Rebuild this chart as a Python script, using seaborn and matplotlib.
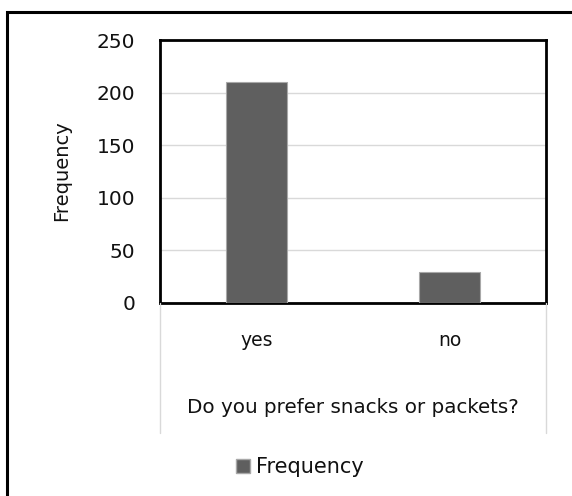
import matplotlib
matplotlib.use("Agg")
import matplotlib.pyplot as plt
from matplotlib.patches import Rectangle
from matplotlib.lines import Line2D
import seaborn as sns
import pandas as pd

# Survey answers and their counts
answers = ["yes", "no"]
frequency = [210, 29]
y_ticks = [0, 50, 100, 150, 200, 250]

df = pd.DataFrame({"answer": answers, "Frequency": frequency})

sns.set_theme(style="white")
plt.rcParams["font.family"] = ["DejaVu Sans"]

W, H = 572, 496
fig = plt.figure(figsize=(W / 100, H / 100), dpi=100)

def fx(px):
    return px / W

def fy(py):
    return 1 - py / H

TEXT = "#111111"
BAR = "#5f5f5f"

ax_l, ax_r, ax_t, ax_b = 160, 546, 40, 303
ax = fig.add_axes([fx(ax_l), fy(ax_b), fx(ax_r - ax_l), (ax_b - ax_t) / H])

sns.barplot(data=df, x="answer", y="Frequency", ax=ax, color=BAR,
            width=0.315, saturation=1, edgecolor="#a8a8a8", linewidth=0.8,
            zorder=3)

ax.set_ylim(0, 250)
ax.set_yticks(y_ticks)
ax.set_yticklabels([str(t) for t in y_ticks], fontsize=14.5, color=TEXT)
ax.grid(axis="y", color="#d9d9d9", linewidth=1, zorder=0)
ax.tick_params(axis="y", length=0, pad=18)
ax.tick_params(axis="x", length=0)
ax.set_xticklabels([])
ax.set_xlabel("")
ax.set_ylabel("")
for s in ax.spines.values():
    s.set_color("black")
    s.set_linewidth(2)

# Category labels, placed under each bar
xpos_trans = matplotlib.transforms.blended_transform_factory(ax.transData,
                                                            fig.transFigure)
for i, name in enumerate(answers):
    fig.text(i, fy(346), name, transform=xpos_trans, ha="center",
             va="baseline", fontsize=13.5, color=TEXT)

# Frequency axis title
fig.text(fx(62), fy(171), "Frequency", rotation=90, ha="center", va="center",
         fontsize=14, color=TEXT)

# Table-like frame under the category axis
for x in (ax_l, ax_r):
    fig.add_artist(Line2D([fx(x), fx(x)], [fy(ax_b), fy(433)],
                          color="#d9d9d9", linewidth=1))

fig.text(fx((ax_l + ax_r) / 2), fy(413), "Do you prefer snacks or packets?",
         ha="center", va="baseline", fontsize=14.3, color=TEXT)

# Legend
handle = Line2D([], [], marker="s", linestyle="none", markersize=10.5,
                markerfacecolor=BAR, markeredgecolor="#a8a8a8")
fig.legend([handle], ["Frequency"], loc="center left",
           bbox_to_anchor=(fx(223), fy(467)), frameon=False,
           handletextpad=0.2, borderpad=0, handlelength=0.9,
           prop={"size": 15}, labelcolor=TEXT)

# Outer chart border
fig.add_artist(Rectangle((fx(7), -0.1), 1.2, fy(12) + 0.1, fill=False,
                         edgecolor="black", linewidth=2.2,
                         transform=fig.transFigure))

fig.savefig("out.png", dpi=100)
